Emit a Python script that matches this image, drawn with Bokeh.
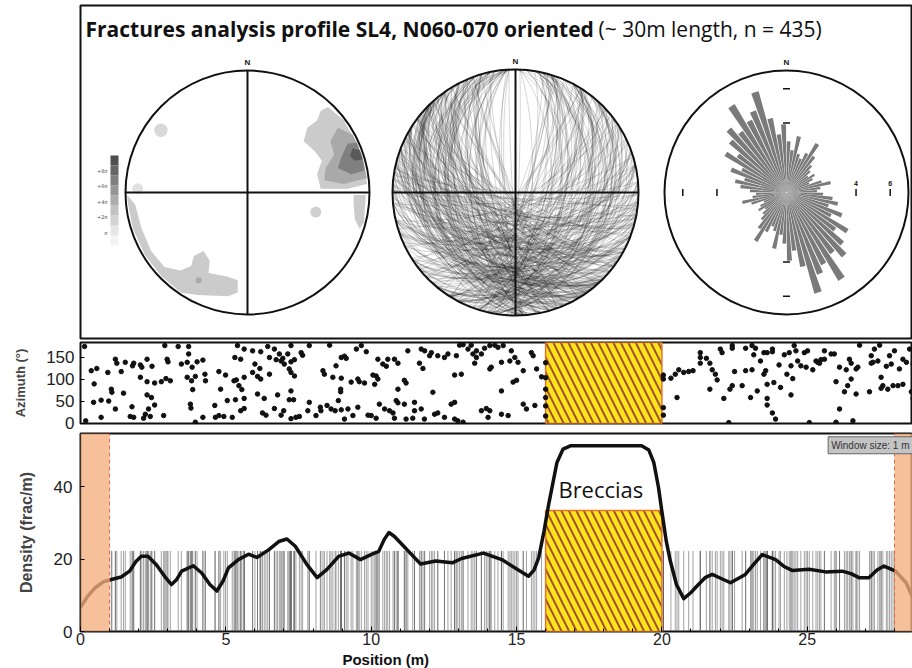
import numpy as np
from bokeh.plotting import figure
from bokeh.models import Range1d, Label, FixedTicker, SingleIntervalTicker
from bokeh.layouts import column
from bokeh.embed import file_html
from bokeh.resources import INLINE

# ---------------- DATA ----------------
# fracture (position along profile [m], azimuth [deg])
frac_seg_a = [(0.14,174),(0.37,119),(0.56,124),(0.47,89),(0.45,47),(0.71,52),(0.94,115),(0.97,50),(0.18,5),(0.71,13),
    (1.06,77),(1.08,70),(1.20,145),(1.25,136),(1.40,117),(1.48,68),(1.20,32),(1.54,138),(1.79,130),(1.83,136),
    (2.06,132),(2.11,127),(2.29,145),(2.46,129),(2.06,104),(2.29,94),(2.55,91),(2.78,94),(2.94,101),(3.09,96),
    (2.98,145),(3.01,139),(2.29,64),(2.44,58),(2.55,41),(2.34,32),(2.23,20),(2.40,15),(2.17,11),(1.77,37),
    (1.83,13),(1.71,15),(2.86,17),(2.90,176),(3.36,174),(3.72,174),(3.47,134),(3.67,138),(3.72,157),(3.84,127),
    (4.01,139),(4.21,143),(3.67,104),(3.82,96),(3.95,106),(4.28,111),(4.30,96),(3.86,76),(3.78,43),(3.80,34),
    (3.95,2),(4.21,13),(4.62,40),(4.76,17),(4.64,13),(4.93,15),(5.05,51),(5.33,53),(4.76,117),(4.99,109),
    (5.28,96),(5.36,98),(4.82,77),(5.31,149),(5.51,145),(5.22,13),(5.51,28),(5.45,85),(5.40,176)]
frac_seg_b = [(5.63,168),(5.92,164),(6.20,162),(6.44,174),(6.67,168),(7.24,176),(7.59,160),(7.64,154),(7.87,176),(6.84,157),
    (6.96,147),(7.13,157),(6.50,149),(6.73,144),(6.90,141),(7.01,134),(7.24,139),(7.36,144),(7.18,123),(6.00,134),
    (6.17,124),(5.92,115),(6.09,106),(6.20,100),(6.50,111),(5.63,104),(7.24,115),(7.36,107),(5.55,76),(5.63,56),
    (6.09,66),(6.32,56),(6.78,64),(7.18,53),(7.33,53),(7.24,73),(5.63,33),(6.26,23),(6.38,18),(6.67,33),
    (6.90,18),(6.99,28),(7.24,10),(7.41,13),(7.53,15),(7.87,47),(7.82,28),(8.10,17),(8.27,28),(8.25,36),
    (8.48,40),(8.62,32),(8.76,28),(8.97,30),(8.87,51),(9.20,32),(9.37,17),(9.54,36),(8.34,119),(8.39,111),
    (8.57,177),(8.79,130),(8.97,149),(9.08,152),(9.14,147),(8.68,104),(8.97,102),(8.95,77),(8.95,71),(9.31,93),
    (9.54,100),(9.59,94),(9.77,91),(9.49,168),(9.66,176),(9.83,162),(10.06,109),(10.17,107),(10.23,100),(10.12,88),
    (10.23,145),(10.40,134),(10.57,145),(10.52,129),(10.80,145),(10.92,136),(10.92,77),(10.86,51),(10.92,46),(10.28,43),
    (10.46,32),(10.63,28),(10.75,23),(10.00,17),(10.17,11),(10.80,11),(9.89,18),(9.08,9)]
frac_seg_c = [(11.26,164),(11.72,168),(11.84,164),(12.07,160),(12.01,153),(12.29,153),(12.52,149),(12.64,157),(13.04,177),(13.16,178),
    (13.33,168),(13.44,177),(13.62,164),(13.90,170),(14.08,176),(14.25,177),(14.36,172),(14.54,176),(14.82,164),(13.50,157),
    (13.62,149),(13.79,157),(13.56,136),(12.93,153),(11.66,136),(11.78,124),(14.48,138),(14.77,141),(15.05,138),(14.94,149),
    (15.51,160),(15.57,153),(14.13,127),(14.08,123),(15.23,119),(15.69,123),(12.87,109),(13.10,111),(11.14,97),(11.20,91),
    (14.88,93),(15.00,97),(12.12,70),(14.48,73),(11.14,43),(11.49,47),(11.49,28),(11.72,32),(11.20,9),(11.43,11),
    (11.83,9),(12.18,20),(12.29,23),(12.52,13),(12.75,43),(12.87,47),(12.87,9),(12.98,5),(13.16,2),(13.79,28),
    (13.96,33),(14.08,28),(14.02,13),(14.48,20),(14.71,17),(15.23,43),(15.34,32),(15.63,40),(15.86,105),
    (16.00,137),(16.00,103),(16.00,77),(16.00,58),(16.00,39),(16.00,16)]
frac_seg_d = [(20.05,109),(20.05,100),(20.05,35),(20.05,18),
    (20.31,102),(20.46,111),(20.58,121),(20.75,115),(20.92,117),(21.07,119),(20.52,58),(21.32,160),(21.32,149),(21.32,136),
    (21.53,147),(21.65,136),(21.73,121),(21.84,111),(21.90,98),(21.65,77),(22.01,168),(22.07,160),(22.42,176),(22.42,170),
    (22.50,117),(22.34,77),(22.42,85),(22.13,56),(22.76,85),(22.88,119),(23.10,121),(22.88,170),(23.10,176),(23.22,170),
    (23.16,155),(23.51,160),(23.62,160),(23.80,168),(23.80,162),(23.39,141),(23.57,119),(23.51,111),(23.28,73),(23.05,58),
    (23.62,88),(23.85,92),(23.62,56),(23.62,41),(23.80,23),(23.91,9),(24.03,132),(24.08,81),(22.30,1)]
frac_seg_e = [(24.21,155),(24.38,160),(24.55,176),(24.61,164),(24.90,160),(25.01,164),(24.44,130),(24.67,141),(24.78,130),(24.96,127),
    (25.19,121),(25.30,141),(25.36,138),(25.47,144),(25.59,145),(25.59,164),(25.82,157),(25.93,157),(25.42,136),(24.30,111),
    (24.50,101),(24.44,64),(25.99,94),(26.11,127),(26.34,121),(26.45,145),(26.51,136),(26.68,123),(26.74,127),(26.51,100),
    (26.39,85),(26.28,71),(26.68,66),(26.11,32),(26.57,5),(26.80,177),(27.20,153),(27.31,168),(27.26,138),(27.20,136),
    (27.43,141),(27.49,177),(27.72,129),(27.83,153),(27.89,134),(28.00,164),(28.17,123),(28.29,145),(28.41,138),(28.64,134),
    (28.52,168),(27.54,104),(27.60,85),(27.54,79),(27.77,77),(27.95,85),(28.12,85),(28.29,88),(28.58,71),(28.64,56),
    (27.14,71),(25.99,2),(25.07,1)]

# dips used for the great-circle net (estimated)
frac_dip = [45,72,33,61,80,27,55,68,39,84,50,63,22,76,58,41,87,66,35,70,
    52,81,29,64,47,74,38,59,85,26,69,44,78,55,31,62,88,49,73,36,
    57,24,67,82,42,60,77,34,53,71,19,65,48,86,40,58,75,30,63,51,
    79,37,56,70,28,83,46,61,74,33,52,89,43,67,25,58,80,39,64,48,
    71,35,60,84,44,55,23,68,77,41,62,50,86,32,73,57,38,81,46,65,
    29,76,53,40,69,87,34,59,47,72,21,63,80,43,56,75,37,66,51,84,
    42,61,27,78,54,36,70,45,88,31,64,57,39,82,49,68,26,74,60,35,
    83,48,66,22,58,73,41,62,30,77,52,86,44,69,36,55,79,28,65,50,
    38,71,56,85,33,60,47,75,24,67,43,81,53,29,72,58,40,87,46,63,
    76,31,54,68,42,83,37,59,49,74,26,65,80,35,57,44,70,52,89,39,
    61,45,78,27,66,50,84,34,58,71,40,63,23,77,55,47,82,36,69,53,
    30,74,48,62,86,38,57,43,79,25,67,52,73,41,60,88,33,56,45,70,
    51,83,37,64,28,76,46,59,72,35,81,54,40,68,20,63,77,44,58,49,
    67,32,75,53,85,42,61,26,70,48,57,80,36,65,43,74,31,59,84,46,
    39,62,55,78,34,69,50,87,41,56,73,29,64,47,82,38,60,53,71,27,
    58,80,43,66,37,75,52,24,63,86,45,68,33,57,79,40,71,49,62,35,
    74,47,60,31,83,54,39,69,56,42,77,64,28,85,51,36,66,45,73,59,
    26,65,50,79,44,58,88,35,62,48,72,37,55,81,43,67,30,76,54,63,
    48,71,39,57,84,33,66,52,75,41]

# density curve (1 m moving window)
density_pos = [0.0,0.25,0.5,0.8,1.06,1.4,1.69,1.9,2.09,2.32,2.61,2.9,3.13,3.3,3.48,3.88,4.17,4.45,4.69,4.9,
    5.09,5.43,5.78,6.07,6.47,6.82,7.1,7.39,7.79,8.14,8.48,8.88,9.23,9.63,10.03,10.26,10.45,10.61,10.8,11.07,
    11.4,11.7,12.22,12.79,13.11,13.86,14.49,14.95,15.41,15.6,15.76,15.95,16.1,16.39,16.6,16.85,19.3,19.55,19.72,19.88,
    20.0,20.15,20.29,20.5,20.75,21.0,21.15,21.5,21.73,22.0,22.36,22.87,23.15,23.45,23.91,24.2,24.48,25.06,25.63,26.2,
    26.5,26.78,27.12,27.4,27.64,28.04,28.4,28.62]
density_val = [6.7,9.8,12.1,13.8,14.4,15.1,16.7,19.3,20.8,20.8,18.5,15.2,13.0,14.3,16.7,18.2,16.2,13.0,11.2,13.9,
    17.6,19.9,21.4,20.5,22.6,24.9,25.6,23.6,18.5,14.9,17.2,20.8,21.7,19.9,21.4,22.2,25.5,27.4,26.3,24.0,
    21.2,18.7,19.5,19.0,20.2,21.7,19.9,17.6,15.3,17.0,20.4,28.0,35.0,46.8,50.5,51.4,51.4,50.2,46.8,40.0,
    33.2,25.0,19.5,13.0,9.1,10.8,12.1,15.0,15.8,14.8,13.5,15.8,18.5,21.3,19.9,18.0,16.9,17.2,16.5,16.7,
    16.0,14.9,14.9,17.0,18.1,16.7,13.5,9.5]

breccia_zone = [16.0, 20.0]
breccia_top = 33.5
edge_left = [0.0, 1.0]
edge_right = [28.0, 28.62]
fracture_tick_height = 22.3
x_axis_title = "Position (m)"
x_axis_title_at = 10.5

# rose diagram: 5-degree bins 0-180 (mirrored), petal length as fraction of net radius
rose_bin_start = list(range(0, 180, 5))
rose_len = [0.42,0.35,0.47,0.33,0.30,0.36,0.47,0.37,0.30,0.26,0.22,0.27,0.24,0.20,0.30,0.37,0.28,0.25,
            0.30,0.38,0.43,0.36,0.49,0.41,0.59,0.50,0.62,0.70,0.62,0.84,0.66,0.72,0.86,0.62,0.48,0.56]
rose_rings = [0.57, 0.85]
rose_ring_labels = ["4", "6"]

# pole density contours (unit stereonet coordinates, x=E, y=N)
contour_ne_1 = [(0.66,0.70),(0.79,0.60),(0.96,0.45),(1.0,0.26),(0.98,0.07),(0.82,0.03),(0.60,0.03),(0.57,0.15),
                (0.61,0.26),(0.55,0.34),(0.46,0.42),(0.49,0.53),(0.57,0.59),(0.60,0.67)]
contour_ne_2 = [(0.74,0.53),(0.93,0.51),(0.995,0.29),(0.98,0.12),(0.79,0.07),(0.63,0.10),(0.64,0.20),(0.71,0.31),(0.68,0.42)]
contour_ne_3 = [(0.82,0.40),(0.92,0.42),(0.97,0.30),(0.96,0.18),(0.85,0.15),(0.74,0.20),(0.77,0.29)]
contour_ne_4 = [(0.86,0.36),(0.93,0.35),(0.94,0.27),(0.88,0.26),(0.84,0.30)]
contour_e_1 = [(0.87,-0.02),(0.97,-0.02),(0.97,-0.25),(0.92,-0.30),(0.88,-0.22),(0.87,-0.10)]
contour_sw_1 = [(-0.99,-0.02),(-0.92,-0.10),(-0.87,-0.29),(-0.79,-0.48),(-0.68,-0.61),(-0.55,-0.64),(-0.46,-0.60),
                (-0.44,-0.52),(-0.36,-0.48),(-0.31,-0.56),(-0.32,-0.66),(-0.16,-0.69),(-0.08,-0.72),(-0.08,-0.82),
                (-0.16,-0.85),(-0.41,-0.84),(-0.55,-0.83),(-0.71,-0.70),(-0.85,-0.52),(-0.95,-0.30),(-0.995,-0.08)]
contour_spots = [(0.56,-0.16,0.045),(-0.71,0.51,0.055),(-0.90,0.03,0.045),(-0.40,-0.72,0.025)]
contour_spot_colors = ["#cfcfcf", "#d8d8d8", "#e2e2e2", "#a9a9a9"]
contour_levels = ["#cbcbcb", "#a9a9a9", "#808080", "#5a5a5a"]
sigma_labels = ["+8σ", "+6σ", "+4σ", "+2σ", "σ"]

TITLE_BOLD = "Fractures analysis profile SL4, N060-070 oriented"
TITLE_REST = "(~ 30m length, n = 435)"

fractures = frac_seg_a + frac_seg_b + frac_seg_c + frac_seg_d + frac_seg_e
frac_pos = [f[0] for f in fractures]
frac_azi = [f[1] for f in fractures]

# ---------------- STYLE ----------------
W = 912
LEFT = 80
XMAX = 28.62
TICK_FONT = "Liberation Sans"
TXT_FONT = "Open Sans"
BLACK = "#111111"

# ---------------- TOP PANEL ----------------
top = figure(width=W, height=340, output_backend="svg", toolbar_location=None,
             x_range=Range1d(0, 832), y_range=Range1d(0, 333),
             min_border_left=LEFT, min_border_right=0, min_border_top=5, min_border_bottom=2)
top.axis.visible = False
top.grid.visible = False
top.outline_line_color = BLACK
top.outline_line_width = 2

NET_CX = [167, 435, 706]
NET_CY = 146
NET_R = [122, 123, 122]

def clip_unit(pts):
    out = []
    for x, y in pts:
        r = (x * x + y * y) ** 0.5
        if r > 0.985:
            x, y = x / r * 0.985, y / r * 0.985
        out.append((x, y))
    return out

# net 1 : contours
cx, R = NET_CX[0], NET_R[0]
polys = [(contour_ne_1, 0), (contour_e_1, 0), (contour_sw_1, 0), (contour_ne_2, 1), (contour_ne_3, 2), (contour_ne_4, 3)]
top.patches(xs=[[cx + R * x for x, y in clip_unit(pp)] for pp, lv in polys],
            ys=[[NET_CY + R * y for x, y in clip_unit(pp)] for pp, lv in polys],
            fill_color=[contour_levels[lv] for pp, lv in polys], line_color=None)
top.circle(x=[cx + R * s[0] for s in contour_spots], y=[NET_CY + R * s[1] for s in contour_spots],
           radius=[R * s[2] for s in contour_spots], fill_color=contour_spot_colors, line_color=None)

# colour bar legend
bar_cols = ["#f4f4f4", "#e6e6e6", "#d4d4d4", "#c2c2c2", "#acacac", "#969696", "#7e7e7e", "#666666", "#4e4e4e"]
bar_b = 93
bar_h = 10
top.quad(left=30, right=38, bottom=[bar_b + i * bar_h for i in range(9)], top=[bar_b + (i + 1) * bar_h for i in range(9)],
         fill_color=bar_cols, line_color=None)
for i, s in enumerate(sigma_labels):
    top.add_layout(Label(x=27, y=168 - i * 15.5, text=s, text_font_size="5px", text_color="#555",
                         text_align="right", text_baseline="middle", text_font="DejaVu Sans"))

# net 2 : great circles (equal-area, lower hemisphere)
cx, R = NET_CX[1], NET_R[1]
t = np.linspace(0, np.pi, 45)
gxs, gys = [], []
for s, d in zip(frac_azi, frac_dip):
    sr, dr = np.radians(s), np.radians(d)
    dd = sr + np.pi / 2
    vE = np.cos(t) * np.sin(sr) + np.sin(t) * np.cos(dr) * np.sin(dd)
    vN = np.cos(t) * np.cos(sr) + np.sin(t) * np.cos(dr) * np.cos(dd)
    vD = np.sin(t) * np.sin(dr)
    pl = np.arcsin(np.clip(vD, -1, 1))
    tr = np.arctan2(vE, vN)
    r = np.sqrt(2) * np.sin((np.pi / 2 - pl) / 2)
    gxs.append(list(cx + R * r * np.sin(tr)))
    gys.append(list(NET_CY + R * r * np.cos(tr)))
top.multi_line(xs=gxs, ys=gys, line_color="#222222", line_alpha=0.3, line_width=0.6)

# net 3 : rose
cx, R = NET_CX[2], NET_R[2]
st, en, rad = [], [], []
for a0, L in zip(rose_bin_start, rose_len):
    for off in (0, 180):
        lo, hi = a0 + off + 0.4, a0 + off + 4.6
        st.append(np.radians(90 - hi))
        en.append(np.radians(90 - lo))
        rad.append(L * R)
top.wedge(x=cx, y=NET_CY, radius=rad, start_angle=st, end_angle=en, fill_color="#7a7a7a", line_color=None)
tk = 3.5
tx0, tx1, ty0, ty1 = [], [], [], []
for rr in rose_rings:
    for sgn in (1, -1):
        tx0 += [cx - tk, cx + sgn * rr * R]
        tx1 += [cx + tk, cx + sgn * rr * R]
        ty0 += [NET_CY + sgn * rr * R, NET_CY - tk]
        ty1 += [NET_CY + sgn * rr * R, NET_CY + tk]
top.segment(x0=tx0, y0=ty0, x1=tx1, y1=ty1, line_color=BLACK, line_width=1.5)
for rr, lab in zip(rose_rings, rose_ring_labels):
    top.add_layout(Label(x=cx + rr * R, y=NET_CY + 9, text=lab, text_font_size="7px", text_font_style="bold",
                         text_align="center", text_baseline="middle", text_color=BLACK, text_font=TICK_FONT))

# circles, crosses, N labels
top.circle(x=NET_CX, y=[NET_CY] * 3, radius=NET_R, fill_color=None, line_color=BLACK, line_width=2)
sx0, sy0, sx1, sy1 = [], [], [], []
for i in (0, 1):
    c, r_ = NET_CX[i], NET_R[i]
    sx0 += [c - r_, c]; sx1 += [c + r_, c]
    sy0 += [NET_CY, NET_CY - r_]; sy1 += [NET_CY, NET_CY + r_]
top.segment(x0=sx0, y0=sy0, x1=sx1, y1=sy1, line_color=BLACK, line_width=2)
for c, r_ in zip(NET_CX, NET_R):
    top.add_layout(Label(x=c, y=NET_CY + r_ + 8, text="N", text_font_size="8px", text_font_style="bold",
                         text_align="center", text_baseline="middle", text_color=BLACK, text_font=TICK_FONT))

top.add_layout(Label(x=5, y=310, text=TITLE_BOLD, text_font=TXT_FONT, text_font_size="21px", text_font_style="bold",
                     text_baseline="middle", text_color=BLACK))
top.add_layout(Label(x=518, y=310, text=TITLE_REST, text_font=TXT_FONT, text_font_size="21px",
                     text_baseline="middle", text_color=BLACK))

# ---------------- AZIMUTH PANEL ----------------
xr = Range1d(0, XMAX)
az = figure(width=W, height=92, output_backend="svg", toolbar_location=None, x_range=xr, y_range=Range1d(-1, 183),
            min_border_left=LEFT, min_border_right=0, min_border_top=2, min_border_bottom=9, x_axis_location=None)
az.grid.visible = False
az.outline_line_color = BLACK
az.outline_line_width = 2
az.quad(left=breccia_zone[0], right=breccia_zone[1], bottom=-1, top=183, fill_color="#FFE41C",
        hatch_pattern="left_diagonal_line", hatch_color="#A0522D", hatch_weight=2, hatch_scale=15,
        line_color="#E8742A", line_width=1.5)
az.scatter(x=frac_pos, y=frac_azi, size=4.5, color=BLACK)
yax = az.yaxis[0]
yax.ticker = FixedTicker(ticks=[0, 50, 100, 150])
yax.axis_label = "Azimuth (°)"
yax.axis_label_text_font = TICK_FONT
yax.axis_label_text_font_style = "bold"
yax.axis_label_text_font_size = "13px"
yax.axis_label_standoff = 15
yax.major_label_text_font = TICK_FONT
yax.major_label_text_font_size = "17px"
yax.major_label_text_color = "#222"
yax.major_label_standoff = 6
yax.major_tick_in = 4
yax.major_tick_out = 0
yax.minor_tick_line_color = None
yax.axis_line_color = None

# ---------------- DENSITY PANEL ----------------
YMAX = 54.8
de = figure(width=W, height=219, output_backend="svg", toolbar_location=None, x_range=xr, y_range=Range1d(0, YMAX),
            min_border_left=LEFT, min_border_right=0, min_border_top=1, min_border_bottom=20)
de.grid.visible = False
de.outline_line_color = BLACK
de.outline_line_width = 2
lines_pos = [p for p in frac_pos if edge_left[1] <= p <= edge_right[0] and not (breccia_zone[0] < p < breccia_zone[1])]
de.segment(x0=lines_pos, y0=0, x1=lines_pos, y1=fracture_tick_height, line_color="#555555", line_alpha=0.55, line_width=1)
de.quad(left=breccia_zone[0], right=breccia_zone[1], bottom=0, top=breccia_top, fill_color="#FFE41C",
        hatch_pattern="left_diagonal_line", hatch_color="#A0522D", hatch_weight=2, hatch_scale=15,
        line_color="#E8742A", line_width=1.5)
de.line(x=density_pos, y=density_val, line_color=BLACK, line_width=3.5, line_join="round")
de.quad(left=[edge_left[0], edge_right[0]], right=[edge_left[1], edge_right[1]], bottom=0, top=YMAX,
        fill_color="#F2AE7E", fill_alpha=0.78, line_color=None)
de.segment(x0=[edge_left[1], edge_right[0]], y0=0, x1=[edge_left[1], edge_right[0]], y1=YMAX,
           line_color="#E06A3A", line_dash="4 3", line_width=1)
de.add_layout(Label(x=17.9, y=39.5, text="Breccias", text_font=TXT_FONT, text_font_size="22px",
                    text_align="center", text_baseline="middle", text_color=BLACK))
de.add_layout(Label(x=edge_right[1], y=53.9, text="Window size: 1 m", text_font=TICK_FONT, text_font_size="10px",
                    text_align="right", text_baseline="top", text_color="#333",
                    background_fill_color="#c4c4c4", border_line_color="#666", padding=3))
xax = de.xaxis[0]
xax.ticker = SingleIntervalTicker(interval=5, num_minor_ticks=5)
xax.major_label_text_font = TICK_FONT
xax.major_label_text_font_size = "16px"
xax.major_label_text_color = "#222"
xax.major_label_standoff = 1
xax.major_tick_in = 5
xax.major_tick_out = 0
xax.minor_tick_in = 3
xax.minor_tick_out = 0
xax.axis_line_color = None
ydx = de.yaxis[0]
ydx.ticker = FixedTicker(ticks=[0, 20, 40])
ydx.axis_label = "Density (frac/m)"
ydx.axis_label_text_font = TICK_FONT
ydx.axis_label_text_font_style = "bold"
ydx.axis_label_text_font_size = "16px"
ydx.axis_label_standoff = 16
ydx.major_label_text_font = TICK_FONT
ydx.major_label_text_font_size = "17px"
ydx.major_label_text_color = "#222"
ydx.major_label_standoff = 8
ydx.major_tick_in = 4
ydx.major_tick_out = 0
ydx.minor_tick_line_color = None
ydx.axis_line_color = None

# ---------------- AXIS TITLE STRIP (shares the metre scale) ----------------
bot = figure(width=W, height=17, output_backend="svg", toolbar_location=None,
             x_range=xr, y_range=Range1d(0, 17),
             min_border_left=LEFT, min_border_right=0, min_border_top=0, min_border_bottom=0)
bot.axis.visible = False
bot.grid.visible = False
bot.outline_line_color = None
bot.add_layout(Label(x=x_axis_title_at, y=9, text=x_axis_title, text_font=TICK_FONT, text_font_size="15px",
                     text_font_style="bold", text_align="center", text_baseline="middle", text_color=BLACK))

p = column(top, az, de, bot, spacing=0)
open("out.html", "w").write(file_html(p, INLINE))
